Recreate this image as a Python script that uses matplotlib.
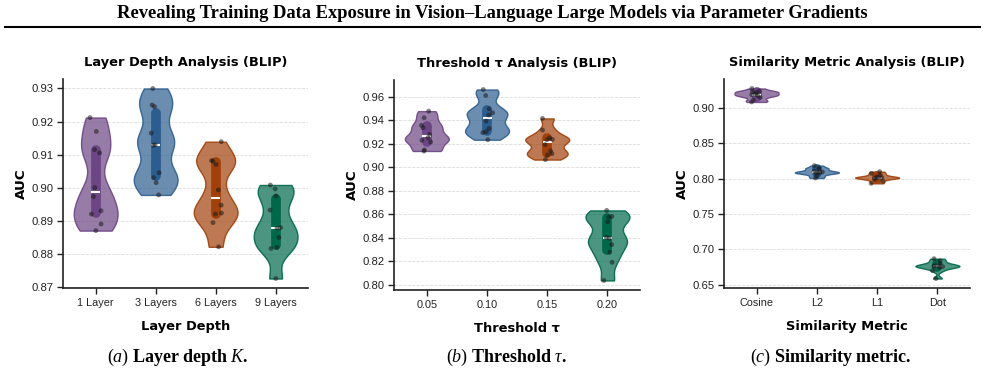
import numpy as np
import matplotlib
matplotlib.use("Agg")
import matplotlib.pyplot as plt
from matplotlib.lines import Line2D

# ---------------- data ----------------
layer_labels = ["1 Layer", "3 Layers", "6 Layers", "9 Layers"]
layer_1 = [0.8870, 0.8890, 0.8920, 0.8930, 0.8973, 0.9000, 0.9105, 0.9115, 0.9170, 0.9212]
layer_3 = [0.8978, 0.9015, 0.9030, 0.9045, 0.9128, 0.9130, 0.9165, 0.9245, 0.9250, 0.9300]
layer_6 = [0.8821, 0.8894, 0.8920, 0.8923, 0.8947, 0.8993, 0.9070, 0.9080, 0.9082, 0.9139]
layer_9 = [0.8725, 0.8816, 0.8819, 0.8849, 0.8877, 0.8879, 0.8932, 0.8975, 0.8996, 0.9008]

tau_labels = ["0.05", "0.10", "0.15", "0.20"]
tau_005 = [0.9139, 0.9148, 0.9216, 0.9230, 0.9252, 0.9281, 0.9337, 0.9357, 0.9422, 0.9478]
tau_010 = [0.9235, 0.9295, 0.9303, 0.9331, 0.9394, 0.9445, 0.9464, 0.9498, 0.9611, 0.9662]
tau_015 = [0.9066, 0.9105, 0.9117, 0.9140, 0.9193, 0.9238, 0.9235, 0.9252, 0.9317, 0.9416]
tau_020 = [0.8037, 0.8192, 0.8277, 0.8342, 0.8396, 0.8404, 0.8537, 0.8577, 0.8582, 0.8633]

metric_labels = ["Cosine", "L2", "L1", "Dot"]
metric_cos = [0.9085, 0.9110, 0.9150, 0.9175, 0.9185, 0.9195, 0.9220, 0.9228, 0.9238, 0.9275]
metric_l2 = [0.8010, 0.8040, 0.8075, 0.8082, 0.8088, 0.8095, 0.8110, 0.8140, 0.8150, 0.8185]
metric_l1 = [0.7935, 0.7965, 0.7995, 0.8010, 0.8015, 0.8018, 0.8025, 0.8050, 0.8075, 0.8100]
metric_dot = [0.6590, 0.6700, 0.6745, 0.6758, 0.6763, 0.6768, 0.6775, 0.6800, 0.6840, 0.6870]

colors = ["#6C4584", "#2C5D8F", "#A0400A", "#00684A"]

plt.rcParams["mathtext.fontset"] = "custom"
plt.rcParams["mathtext.rm"] = "Liberation Serif"
plt.rcParams["mathtext.it"] = "Liberation Serif:italic"
plt.rcParams["mathtext.bf"] = "Liberation Serif:bold"

W, H = 985, 378
fig = plt.figure(figsize=(W / 100, H / 100), dpi=100)


def px_axes(left, right, top, bottom):
    return fig.add_axes([left / W, 1 - bottom / H, (right - left) / W, (bottom - top) / H])


def draw_panel(ax, groups, labels, title, xlabel, seed):
    pos = np.arange(len(groups))
    parts = ax.violinplot(groups, positions=pos, widths=0.73, showextrema=False,
                          showmeans=False, showmedians=False, bw_method=0.35)
    for body, c in zip(parts["bodies"], colors):
        rgb = matplotlib.colors.to_rgb(c)
        body.set_facecolor((*rgb, 0.7))
        body.set_edgecolor((*rgb, 0.9))
        body.set_linewidth(1.0)
        body.set_alpha(None)
        body.set_zorder(2)
    rng = np.random.default_rng(seed)
    for i, (g, c) in enumerate(zip(groups, colors)):
        q1, med, q3 = np.percentile(g, [25, 50, 75])
        ax.plot([i, i], [q1, q3], color=c, lw=7, solid_capstyle="round", zorder=3)
        ax.plot([i - 0.075, i + 0.075], [med, med], color="white", lw=1.5, zorder=4,
                solid_capstyle="butt")
        xj = i + rng.uniform(-0.1, 0.1, len(g))
        ax.scatter(xj, g, s=12, color="#1a1a1a", alpha=0.55, edgecolors="none", zorder=5)
    ax.set_xticks(pos)
    ax.set_xticklabels(labels, fontsize=7.8, family="Liberation Sans", color="#222222")
    ax.set_xlim(-0.54, len(groups) - 1 + 0.54)
    ax.yaxis.grid(True, linestyle="--", color="#dcdcdc", linewidth=0.6)
    ax.set_axisbelow(True)
    for s in ["top", "right"]:
        ax.spines[s].set_visible(False)
    for s in ["left", "bottom"]:
        ax.spines[s].set_linewidth(1.2)
        ax.spines[s].set_color("#222222")
    ax.tick_params(axis="both", length=4, width=1.0, color="#222222", pad=3)
    ax.set_title(title, fontsize=9.4, fontweight="bold", family="DejaVu Sans", pad=9.5)
    ax.set_xlabel(xlabel, fontsize=9.4, fontweight="bold", family="DejaVu Sans", labelpad=8.5)
    ax.set_ylabel("AUC", fontsize=9.6, fontweight="bold", family="DejaVu Sans", labelpad=2.5)


def set_yt(ax, ticks):
    ax.set_yticks(ticks)
    ax.set_yticklabels([f"{t:.2f}" for t in ticks], fontsize=8.1,
                       family="Liberation Sans", color="#222222")


ax1 = px_axes(63.3, 308, 79, 288)
draw_panel(ax1, [layer_1, layer_3, layer_6, layer_9], layer_labels,
           "Layer Depth Analysis (BLIP)", "Layer Depth", 1)
set_yt(ax1, [0.87, 0.88, 0.89, 0.90, 0.91, 0.92, 0.93])

ax2 = px_axes(394.3, 640, 80, 290)
draw_panel(ax2, [tau_005, tau_010, tau_015, tau_020], tau_labels,
           "Threshold τ Analysis (BLIP)", "Threshold τ", 2)
set_yt(ax2, [0.80, 0.82, 0.84, 0.86, 0.88, 0.90, 0.92, 0.94, 0.96])

ax3 = px_axes(724, 970, 79, 288)
draw_panel(ax3, [metric_cos, metric_l2, metric_l1, metric_dot], metric_labels,
           "Similarity Metric Analysis (BLIP)", "Similarity Metric", 3)
set_yt(ax3, [0.65, 0.70, 0.75, 0.80, 0.85, 0.90])

fig.text(0.5, 1 - 13 / H,
         "Revealing Training Data Exposure in Vision–Language Large Models via Parameter Gradients",
         ha="center", va="center", fontsize=13.3, fontweight="bold", family="Liberation Serif")
fig.add_artist(Line2D([5 / W, 980 / W], [1 - 27 / H, 1 - 27 / H], color="black", lw=1.5))

cap_y = 1 - 357 / H
fig.text(178 / W, cap_y, r"$\mathit{(a)}\ \mathbf{Layer\ depth}\ K\mathbf{.}$",
         ha="center", va="center", fontsize=13)
fig.text(506 / W, cap_y, r"$\mathit{(b)}\ \mathbf{Threshold}\ \tau\mathbf{.}$",
         ha="center", va="center", fontsize=13)
fig.text(831 / W, cap_y, r"$\mathit{(c)}\ \mathbf{Similarity\ metric.}$",
         ha="center", va="center", fontsize=13)

fig.savefig("out.png", dpi=100)
